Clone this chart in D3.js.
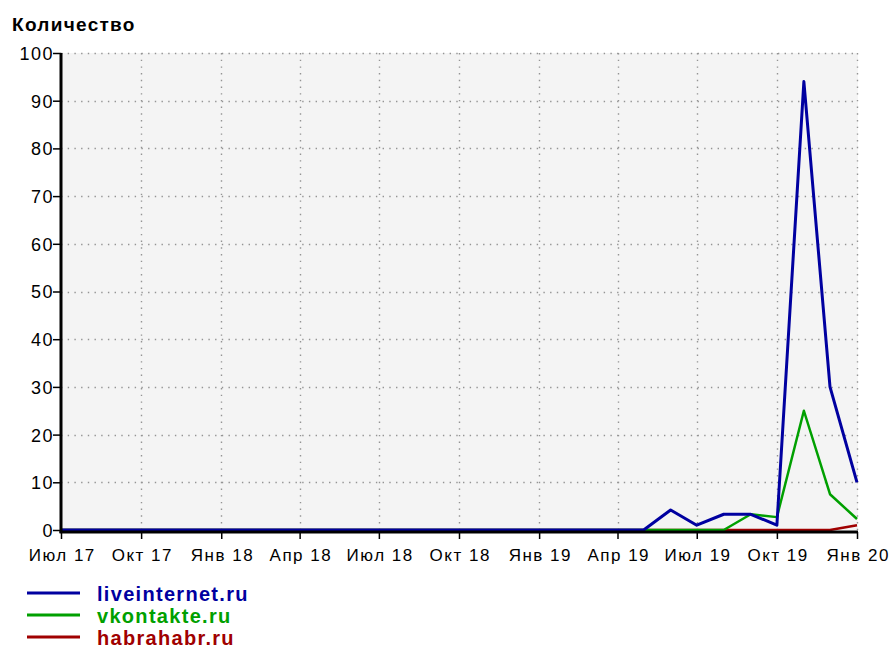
<!DOCTYPE html>
<html>
<head>
<meta charset="utf-8">
<script src="https://cdn.jsdelivr.net/npm/d3@7/dist/d3.min.js"></script>
<style>
  body { margin: 0; background: #fff; }
  svg { display: block; }
</style>
</head>
<body>
<div id="chart"></div>
<script>
// monthly points, Jul 2017 .. Jan 2020
const months = d3.timeMonths(new Date(2017, 6, 1), new Date(2020, 1, 1));
const zeros = n => new Array(n).fill(0);

const liveinternet = zeros(22).concat([0, 4.2, 1, 3.3, 3.3, 1, 94, 30, 10]);
const vkontakte = zeros(22).concat([0, 0, 0, 0, 3.3, 2.7, 25, 7.5, 2.3]);
const habrahabr = zeros(22).concat([0, 0, 0, 0, 0, 0, 0, 0, 1]);

const series = [
    { name: "habrahabr.ru", color: "#a00000", width: 2.5, values: habrahabr },
    { name: "vkontakte.ru", color: "#00a000", width: 2.5, values: vkontakte },
    { name: "liveinternet.ru", color: "#0000a0", width: 3, values: liveinternet }
];
const legendOrder = ["liveinternet.ru", "vkontakte.ru", "habrahabr.ru"];
const yTicks = [0, 10, 20, 30, 40, 50, 60, 70, 80, 90, 100];
const monthNames = ["Янв", "Фев", "Мар", "Апр", "Май", "Июн", "Июл", "Авг", "Сен", "Окт", "Ноя", "Дек"];

const width = 891, height = 650;
const mLeft = 61, mRight = 857, mTop = 53, mBottom = 530;

const svg = d3.select("#chart").append("svg")
    .attr("width", width)
    .attr("height", height);

const x = d3.scaleTime()
    .domain([months[0], months[months.length - 1]])
    .range([mLeft, mRight]);
const y = d3.scaleLinear().domain([0, 100]).range([mBottom, mTop]);

const xTicks = d3.timeMonth.every(3).range(new Date(2017, 6, 1), new Date(2020, 0, 2));
const fmt = d => monthNames[d.getMonth()] + " " + String(d.getFullYear()).slice(2);

// plot background
svg.append("rect")
    .attr("x", mLeft).attr("y", mTop)
    .attr("width", mRight - mLeft + 1).attr("height", mBottom - mTop)
    .attr("fill", "#f4f4f4");

// grid
svg.append("g").selectAll("line")
    .data(yTicks.slice(1))
    .join("line")
    .attr("x1", mLeft).attr("x2", mRight + 1)
    .attr("y1", d => Math.round(y(d)) + 0.5).attr("y2", d => Math.round(y(d)) + 0.5)
    .attr("stroke", "#949494").attr("stroke-width", 1.4)
    .attr("stroke-dasharray", "1.4,5.3");

svg.append("g").selectAll("line")
    .data(xTicks.slice(1))
    .join("line")
    .attr("x1", d => Math.round(x(d)) + 0.5).attr("x2", d => Math.round(x(d)) + 0.5)
    .attr("y1", mTop).attr("y2", mBottom)
    .attr("stroke", "#949494").attr("stroke-width", 1.4)
    .attr("stroke-dasharray", "1.4,5.3");

// lines
const line = d3.line()
    .x((d, i) => x(months[i]))
    .y(d => y(d));

svg.append("g").selectAll("path")
    .data(series)
    .join("path")
    .attr("d", d => line(d.values))
    .attr("fill", "none")
    .attr("stroke", d => d.color)
    .attr("stroke-width", d => d.width)
    .attr("stroke-linejoin", "round");

// axes
const yAxis = svg.append("g")
    .attr("transform", `translate(${mLeft},0)`)
    .call(d3.axisLeft(y).tickValues(yTicks).tickSize(8).tickPadding(0));
yAxis.select(".domain").attr("stroke-width", 3).attr("d", `M0,${mTop}V${mBottom + 3}`);

const xAxis = svg.append("g")
    .attr("transform", `translate(0,${mBottom + 2})`)
    .call(d3.axisBottom(x).tickValues(xTicks).tickFormat(fmt).tickSize(7).tickPadding(10));
xAxis.select(".domain").attr("stroke-width", 3).attr("d", `M${mLeft - 1.5},0H${mRight + 1}`);

svg.selectAll(".tick line").attr("stroke", "#000").attr("stroke-width", 1.5);
svg.selectAll(".tick text")
    .attr("fill", "#000")
    .style("font-family", "'Liberation Sans', Arial, sans-serif");
xAxis.selectAll(".tick text")
    .style("font-size", "17px")
    .style("letter-spacing", "1.5px")
    .attr("dx", "0.75");
yAxis.selectAll(".tick text")
    .style("font-size", "18px")
    .style("letter-spacing", "1.5px")
    .attr("dy", "0.36em")
    .attr("dx", "1");

// title
svg.append("text")
    .attr("x", 12).attr("y", 31)
    .style("font-family", "'Liberation Sans', Arial, sans-serif")
    .style("font-weight", "bold")
    .style("font-size", "19px")
    .style("letter-spacing", "1.3px")
    .text("Количество");

// legend
const legend = svg.append("g").selectAll("g")
    .data(legendOrder.map(n => series.find(s => s.name === n)))
    .join("g")
    .attr("transform", (d, i) => `translate(0,${593 + i * 22})`);

legend.append("line")
    .attr("x1", 27).attr("x2", 80)
    .attr("stroke", d => d.color)
    .attr("stroke-width", 3);

legend.append("text")
    .attr("x", 97).attr("y", 8)
    .attr("fill", d => d.color)
    .style("font-family", "'Liberation Sans', Arial, sans-serif")
    .style("font-weight", "bold")
    .style("font-size", "20px")
    .style("letter-spacing", "1.3px")
    .text(d => d.name);
</script>
</body>
</html>
